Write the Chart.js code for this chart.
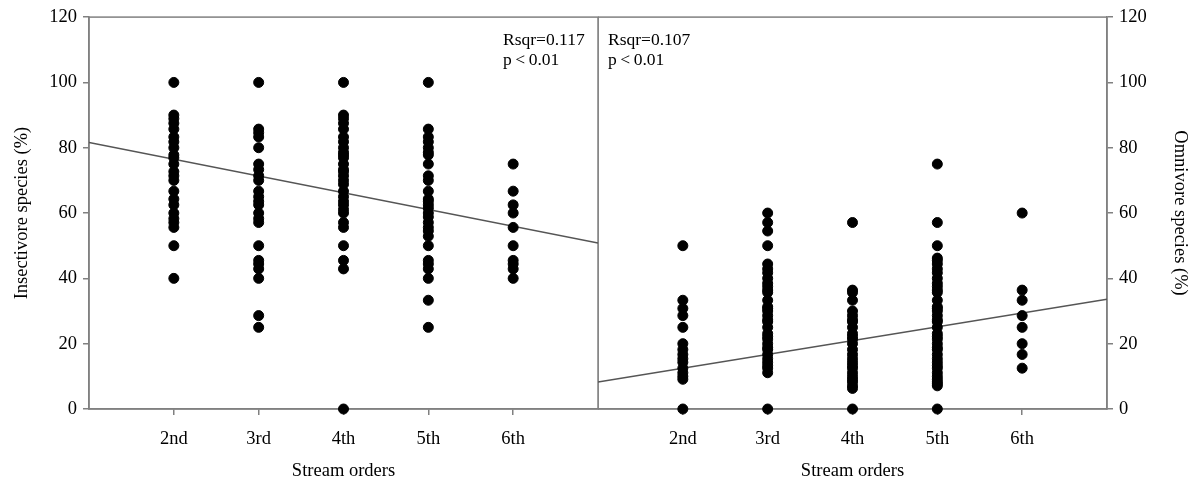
<!DOCTYPE html>
<html>
<head>
<meta charset="utf-8">
<script src="https://cdn.jsdelivr.net/npm/chart.js@4.4.1/dist/chart.umd.min.js"></script>
<style>
  html, body { margin: 0; padding: 0; background: #fff; }
  #wrap { position: relative; width: 1197px; height: 483px; }
  #leftChart  { position: absolute; left: 0;     top: 0; }
  #rightChart { position: absolute; left: 598px; top: 0; }
</style>
</head>
<body>
<div id="wrap">
  <canvas id="leftChart"  width="599" height="483"></canvas>
  <canvas id="rightChart" width="599" height="483"></canvas>
</div>
<script>
/* ── Data ─────────────────────────────────────────────── */
const orderLabels = ['2nd', '3rd', '4th', '5th', '6th'];
const orderValues = [2, 3, 4, 5, 6];
const yTicks      = [0, 20, 40, 60, 80, 100, 120];

// Insectivore species (%) per stream order
const insect2nd = [100, 90, 88.9, 87.5, 85.7, 83.3, 81.8, 80, 77.8, 76.9, 75, 72.7, 71.4, 70,
                   66.7, 64.3, 62.5, 60, 58.3, 57.1, 55.6, 50, 40];
const insect3rd = [100, 85.7, 84.6, 83.3, 80, 75, 73.3, 71.4, 70, 66.7, 65, 63.6, 62.5, 60,
                   58.3, 57.1, 50, 45.5, 44.4, 42.9, 40, 28.6, 25];
const insect4th = [100, 90, 88.9, 87.5, 85.7, 83.3, 81.8, 80, 78.6, 77.8, 76.9, 75, 73.3, 72.7,
                   71.4, 70, 68.8, 66.7, 65, 63.6, 62.5, 61.1, 60, 57.1, 55.6, 50, 45.5, 42.9, 0];
const insect5th = [100, 85.7, 83.3, 81.8, 80, 78.6, 77.8, 75, 71.4, 70, 66.7, 64.3, 63.6, 62.5,
                   61.5, 60, 58.8, 57.1, 55.6, 54.5, 52.9, 50, 45.5, 44.4, 42.9, 40, 33.3, 25];
const insect6th = [75, 66.7, 62.5, 60, 55.6, 50, 45.5, 44.4, 42.9, 40];
const insectFit = [81.6, 50.8];   // fitted line at x = 1 and x = 7

// Omnivore species (%) per stream order
const omni2nd = [50, 33.3, 30.8, 28.6, 25, 20, 18.2, 16.7, 15.4, 14.3, 12.5, 11.1, 10, 9.1, 0];
const omni3rd = [60, 57.1, 54.5, 50, 44.4, 42.9, 41.7, 40, 38.5, 37.5, 36.4, 35.7, 33.3, 31.3,
                 30.8, 30, 28.6, 27.3, 26.7, 25, 23.1, 22.2, 21.4, 20, 18.8, 18.2, 16.7, 15.4,
                 14.3, 13.3, 12.5, 11.1, 0];
const omni4th = [57.1, 36.4, 35.7, 33.3, 30, 28.6, 27.3, 26.7, 25, 23.1, 22.2, 21.4, 20, 18.2,
                 16.7, 15.4, 14.3, 13.3, 12.5, 11.1, 10, 9.1, 8.3, 7.1, 6.3, 0];
const omni5th = [75, 57.1, 50, 46.2, 45.5, 44.4, 42.9, 41.7, 40, 38.5, 37.5, 36.4, 35.7, 33.3,
                 31.3, 30.8, 30, 28.6, 27.3, 26.7, 25, 23.1, 22.2, 21.4, 20, 18.8, 18.2, 16.7,
                 15.4, 14.3, 13.3, 12.5, 11.1, 10, 9.1, 8.3, 7.7, 7.1, 0];
const omni6th = [60, 36.4, 33.3, 28.6, 25, 20, 16.7, 12.5];
const omniFit = [8.3, 33.6];

/* ── Helpers ──────────────────────────────────────────── */
Chart.defaults.font.family = '"Liberation Serif", "Times New Roman", serif';
Chart.defaults.font.size = 18.5;
Chart.defaults.color = '#000';

const AXIS_GREY = '#808080';

function toPoints(columns) {
    const pts = [];
    columns.forEach((col, i) => col.forEach(v => pts.push({ x: orderValues[i], y: v })));
    return pts;
}

// frame around plot area (top / right edges are not axes)
const framePlugin = {
    id: 'frame',
    beforeDatasetsDraw(chart) {
        const { ctx, chartArea: a } = chart;
        ctx.save();
        ctx.strokeStyle = AXIS_GREY;
        ctx.lineWidth = 1.5;
        ctx.strokeRect(a.left, a.top, a.right - a.left, a.bottom - a.top);
        ctx.restore();
    }
};

// Rsqr / p annotation
const statsPlugin = {
    id: 'stats',
    afterDraw(chart, args, opts) {
        const { ctx, chartArea: a } = chart;
        const x = opts.side === 'right' ? a.right - 95 : a.left + 10;
        ctx.save();
        ctx.fillStyle = '#000';
        ctx.font = '17.5px "Liberation Serif", serif';
        ctx.textBaseline = 'middle';
        ctx.fillText(opts.lines[0], x, a.top + 23);
        ctx.fillText(opts.lines[1], x, a.top + 43);
        ctx.restore();
    }
};

function buildChart(canvasId, columns, fit, yTitle, side) {
    const yPos = side === 'left' ? 'left' : 'right';
    return new Chart(document.getElementById(canvasId), {
        type: 'scatter',
        data: {
            datasets: [{
                data: toPoints(columns),
                backgroundColor: '#000',
                borderColor: '#000',
                pointRadius: 5,
                pointHoverRadius: 5,
                clip: false
            }, {
                type: 'line',
                data: [{ x: 1, y: fit[0] }, { x: 7, y: fit[1] }],
                borderColor: '#555',
                borderWidth: 1.5,
                pointRadius: 0,
                fill: false
            }]
        },
        options: {
            responsive: false,
            animation: false,
            layout: {
                autoPadding: false,
                padding: side === 'left'
                    ? { top: 16, right: 1, bottom: 0, left: 0 }
                    : { top: 16, right: 0, bottom: 0, left: 0 }
            },
            plugins: {
                legend:  { display: false },
                tooltip: { enabled: false },
                stats:   {
                    side: side === 'left' ? 'right' : 'left',
                    lines: side === 'left'
                        ? ['Rsqr=0.117', 'p\u2009<\u20090.01']
                        : ['Rsqr=0.107', 'p\u2009<\u20090.01']
                }
            },
            scales: {
                x: {
                    type: 'linear',
                    min: 1, max: 7,
                    afterBuildTicks: s => { s.ticks = orderValues.map(v => ({ value: v })); },
                    afterFit: s => { s.height = 74; s.paddingLeft = 0; s.paddingRight = 0; },
                    ticks: {
                        callback: v => orderLabels[orderValues.indexOf(v)],
                        padding: 13,
                        maxRotation: 0
                    },
                    grid:   { drawOnChartArea: false, drawTicks: true, tickLength: 6, color: AXIS_GREY, lineWidth: 1.5 },
                    border: { color: AXIS_GREY, width: 1.5 },
                    title:  { display: true, text: 'Stream orders', padding: { top: 0, bottom: 1 } }
                },
                y: {
                    position: yPos,
                    min: 0, max: 120,
                    afterBuildTicks: s => { s.ticks = yTicks.map(v => ({ value: v })); },
                    afterFit: s => { s.width = side === 'left' ? 89 : 90; },
                    ticks: { padding: 6 },
                    grid:   { drawOnChartArea: false, drawTicks: true, tickLength: 6, color: AXIS_GREY, lineWidth: 1.5 },
                    border: { color: AXIS_GREY, width: 1.5 },
                    title:  { display: true, text: yTitle, padding: { top: side === 'left' ? 11 : 6, bottom: 0 } }
                }
            }
        },
        plugins: [framePlugin, statsPlugin]
    });
}

buildChart('leftChart',
    [insect2nd, insect3rd, insect4th, insect5th, insect6th],
    insectFit, 'Insectivore species (%)', 'left');

buildChart('rightChart',
    [omni2nd, omni3rd, omni4th, omni5th, omni6th],
    omniFit, 'Omnivore species (%)', 'right');
</script>
</body>
</html>
